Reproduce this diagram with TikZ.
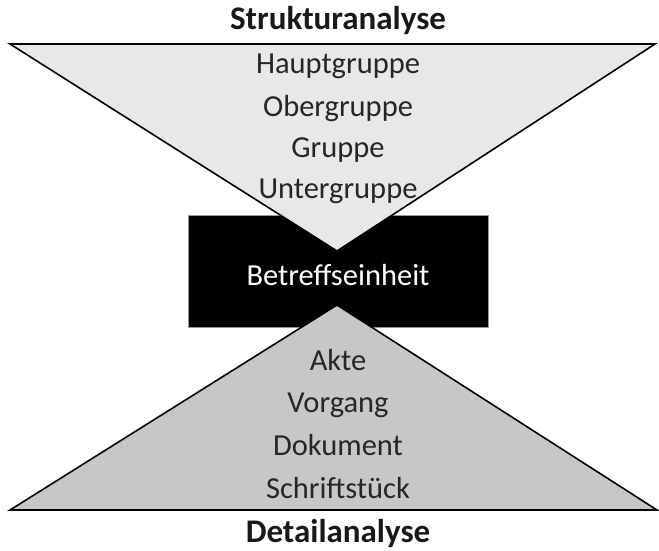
\documentclass[tikz,border=0pt]{standalone}
\usepackage{fontspec}
\setmainfont{Carlito}
\begin{document}
\begin{tikzpicture}[x=1pt,y=-1pt,
  lbl/.style={font=\fontsize{30.5}{34}\selectfont, text=black!85, inner sep=0pt, anchor=base},
  ttl/.style={font=\fontsize{33}{38}\selectfont\bfseries, text=black!90, inner sep=0pt, anchor=base},
  tri/.style={draw=black, line width=1.6pt, line join=miter}]
\useasboundingbox (0,0) rectangle (659,551);
\node[draw=black!40, fill=black, line width=0.8pt, minimum width=300pt, minimum height=112pt, inner sep=0pt] (box) at (338,271) {};
\coordinate (tl) at (10,44);
\coordinate (tr) at (655,44);
\coordinate (ta) at (337,251);
\coordinate (bl) at (10,510);
\coordinate (br) at (657,510);
\coordinate (ba) at (337,305);
\draw[tri, fill=black!9] (tl) -- (tr) -- (ta) -- cycle;
\draw[tri, fill=black!22] (bl) -- (br) -- (ba) -- cycle;
\node[ttl] (t1) at (338,30) {Strukturanalyse};
\node[lbl] (h1) at (338,74) {Hauptgruppe};
\node[lbl] (h2) at (338,116) {Obergruppe};
\node[lbl] (h3) at (338,157) {Gruppe};
\node[lbl] (h4) at (338,198) {Untergruppe};
\node[lbl, text=white] (be) at (338,285) {Betreffseinheit};
\node[lbl] (d1) at (338,370) {Akte};
\node[lbl] (d2) at (338,412) {Vorgang};
\node[lbl] (d3) at (338,455) {Dokument};
\node[lbl] (d4) at (338,498) {Schriftstück};
\node[ttl] (t2) at (338,542) {Detailanalyse};
\end{tikzpicture}
\end{document}
